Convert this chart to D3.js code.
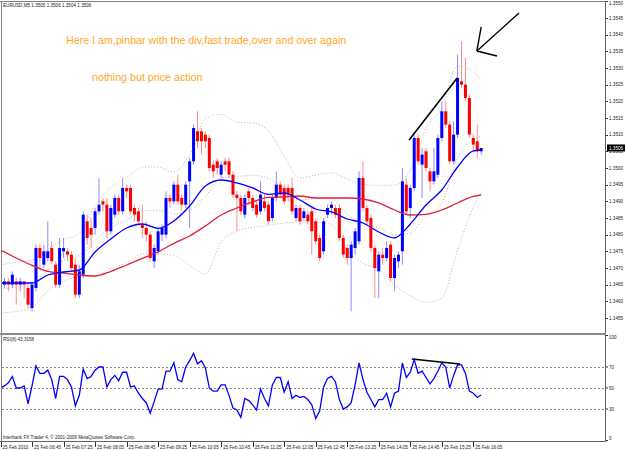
<!DOCTYPE html>
<html>
<head>
<meta charset="utf-8">
<script src="https://cdn.jsdelivr.net/npm/d3@7"></script>
<style>
  body { margin: 0; background: #fff; }
  svg { display: block; }
  text { font-family: "Liberation Sans", Arial, sans-serif; }
</style>
</head>
<body>
<svg id="chart" width="625" height="450"></svg>
<script>
// EURUSD M5, 25 Feb 2010, bars 06:05 .. 16:15 (123 bars)

const opens = [
  1.3466, 1.3465, 1.3466, 1.3465, 1.3466, 1.3465, 1.3466, 1.3464, 1.3458, 1.3464,
  1.3476, 1.3471, 1.3473, 1.3476, 1.3471, 1.3465, 1.3475, 1.3475, 1.3474, 1.3471,
  1.3462, 1.3468, 1.3484, 1.3482, 1.3482, 1.3487, 1.3490, 1.3489, 1.3481, 1.3486,
  1.3491, 1.3487, 1.3494, 1.3494, 1.3488, 1.3487, 1.3483, 1.3482, 1.3480, 1.3472,
  1.3475, 1.3480, 1.3480, 1.3491, 1.3490, 1.3495, 1.3491, 1.3489, 1.3496, 1.3502,
  1.3511, 1.3511, 1.3510, 1.3509, 1.3501, 1.3502, 1.3498, 1.3502, 1.3502, 1.3498,
  1.3492, 1.3491, 1.3486, 1.3493, 1.3491, 1.3489, 1.3487, 1.3490, 1.3489, 1.3485,
  1.3491, 1.3495, 1.3494, 1.3494, 1.3494, 1.3485, 1.3488, 1.3485, 1.3486, 1.3487,
  1.3484, 1.3479, 1.3475, 1.3486, 1.3488, 1.3488, 1.3488, 1.3479, 1.3476, 1.3473,
  1.3476, 1.3478, 1.3497, 1.3488, 1.3485, 1.3476, 1.3469, 1.3474, 1.3473, 1.3477,
  1.3467, 1.3472, 1.3475, 1.3495, 1.3488, 1.3494, 1.3509, 1.3501, 1.3505, 1.3499,
  1.3496, 1.3498, 1.3509, 1.3517, 1.3513, 1.3502, 1.3510, 1.3526, 1.3525, 1.3521,
  1.3509, 1.3508, 1.3505
];
const highs = [
  1.3467, 1.3467, 1.3467, 1.3469, 1.3467, 1.3467, 1.3466, 1.3465, 1.3466, 1.3477,
  1.3477, 1.3477, 1.3484, 1.3478, 1.3472, 1.3479, 1.3479, 1.3476, 1.3475, 1.3473,
  1.3471, 1.3487, 1.3486, 1.3485, 1.3488, 1.3497, 1.3491, 1.3491, 1.3489, 1.3492,
  1.3492, 1.3497, 1.3495, 1.3495, 1.3489, 1.3488, 1.3489, 1.3484, 1.3481, 1.3477,
  1.3482, 1.3483, 1.3493, 1.3492, 1.3496, 1.3498, 1.3492, 1.3496, 1.3503, 1.3513,
  1.3517, 1.3512, 1.3511, 1.3510, 1.3502, 1.3503, 1.3502, 1.3503, 1.3503, 1.3499,
  1.3493, 1.3492, 1.3492, 1.3494, 1.3492, 1.3490, 1.3496, 1.3492, 1.3490, 1.3492,
  1.3499, 1.3496, 1.3495, 1.3495, 1.3497, 1.3489, 1.3489, 1.3488, 1.3487, 1.3488,
  1.3485, 1.3480, 1.3485, 1.3489, 1.3490, 1.3489, 1.3489, 1.3480, 1.3477, 1.3478,
  1.3482, 1.3499, 1.3502, 1.3489, 1.3486, 1.3477, 1.3475, 1.3476, 1.3478, 1.3478,
  1.3474, 1.3475, 1.3500, 1.3497, 1.3495, 1.3510, 1.3510, 1.3506, 1.3506, 1.3500,
  1.3506, 1.3510, 1.3520, 1.3520, 1.3514, 1.3514, 1.3534, 1.3538, 1.3533, 1.3522,
  1.3510, 1.3513, 1.3506
];
const lows = [
  1.3462, 1.3464, 1.3463, 1.3464, 1.3459, 1.3463, 1.3461, 1.3458, 1.3457, 1.3463,
  1.3470, 1.3470, 1.3472, 1.3471, 1.3464, 1.3464, 1.3473, 1.3472, 1.3469, 1.3461,
  1.3461, 1.3467, 1.3477, 1.3476, 1.3480, 1.3486, 1.3487, 1.3479, 1.3480, 1.3485,
  1.3486, 1.3486, 1.3491, 1.3486, 1.3484, 1.3483, 1.3479, 1.3478, 1.3472, 1.3470,
  1.3474, 1.3478, 1.3479, 1.3488, 1.3489, 1.3489, 1.3487, 1.3488, 1.3482, 1.3501,
  1.3506, 1.3504, 1.3506, 1.3499, 1.3497, 1.3498, 1.3497, 1.3499, 1.3497, 1.3491,
  1.3481, 1.3486, 1.3485, 1.3489, 1.3487, 1.3485, 1.3486, 1.3487, 1.3483, 1.3484,
  1.3490, 1.3491, 1.3489, 1.3490, 1.3486, 1.3484, 1.3483, 1.3484, 1.3483, 1.3474,
  1.3477, 1.3472, 1.3474, 1.3485, 1.3486, 1.3485, 1.3478, 1.3473, 1.3471, 1.3457,
  1.3474, 1.3477, 1.3487, 1.3483, 1.3475, 1.3461, 1.3461, 1.3471, 1.3472, 1.3466,
  1.3463, 1.3470, 1.3471, 1.3486, 1.3485, 1.3493, 1.3501, 1.3491, 1.3499, 1.3493,
  1.3495, 1.3497, 1.3508, 1.3512, 1.3501, 1.3501, 1.3509, 1.3524, 1.3520, 1.3509,
  1.3505, 1.3503, 1.3504
];
const closes = [
  1.3463, 1.3466, 1.3465, 1.3468, 1.3465, 1.3466, 1.3465, 1.3459, 1.3465, 1.3476,
  1.3473, 1.3475, 1.3475, 1.3472, 1.3465, 1.3476, 1.3476, 1.3474, 1.3470, 1.3462,
  1.3469, 1.3486, 1.3479, 1.3480, 1.3487, 1.3489, 1.3489, 1.3481, 1.3488, 1.3491,
  1.3487, 1.3494, 1.3493, 1.3487, 1.3486, 1.3484, 1.3482, 1.3480, 1.3473, 1.3476,
  1.3481, 1.3482, 1.3491, 1.3490, 1.3495, 1.3490, 1.3489, 1.3495, 1.3502, 1.3512,
  1.3508, 1.3508, 1.3508, 1.3500, 1.3499, 1.3500, 1.3501, 1.3501, 1.3498, 1.3492,
  1.3491, 1.3487, 1.3491, 1.3491, 1.3488, 1.3486, 1.3492, 1.3488, 1.3484, 1.3491,
  1.3495, 1.3492, 1.3490, 1.3492, 1.3487, 1.3488, 1.3484, 1.3487, 1.3484, 1.3481,
  1.3478, 1.3473, 1.3484, 1.3488, 1.3489, 1.3486, 1.3479, 1.3474, 1.3473, 1.3477,
  1.3481, 1.3497, 1.3488, 1.3484, 1.3476, 1.3470, 1.3474, 1.3473, 1.3476, 1.3467,
  1.3473, 1.3474, 1.3496, 1.3487, 1.3494, 1.3509, 1.3502, 1.3504, 1.3500, 1.3496,
  1.3499, 1.3509, 1.3517, 1.3513, 1.3502, 1.3510, 1.3527, 1.3525, 1.3521, 1.3510,
  1.3507, 1.3505, 1.3506
];

// RSI(8), one value per bar
const rsiValues = [
  50, 52, 55, 61, 50, 50, 52, 35, 52, 71,
  64, 64, 67, 58, 40, 61, 61, 58, 51, 33,
  43, 68, 59, 61, 67, 70, 70, 51, 58, 62,
  57, 65, 65, 51, 52, 45, 40, 36, 26, 37,
  49, 49, 66, 66, 74, 58, 56, 70, 76, 83,
  73, 76, 69, 50, 47, 47, 53, 53, 43, 31,
  29, 22, 40, 38, 34, 29, 49, 40, 33, 53,
  60, 60, 46, 56, 40, 43, 41, 42, 39, 34,
  21, 28, 51, 59, 61, 56, 39, 30, 32, 36,
  53, 74, 58, 46, 39, 32, 39, 39, 45, 32,
  45, 47, 74, 60, 65, 77, 64, 66, 60, 54,
  59, 66, 74, 70, 50, 62, 72, 72, 64, 47,
  45, 41, 43.3158
];

// indicator lines, read every 4th bar
const sampleBars = [0, 4, 8, 12, 16, 20, 24, 28, 32, 36, 40, 44, 48, 52, 56, 60,
  64, 68, 72, 76, 80, 84, 88, 92, 96, 100, 104, 108, 112, 116, 120, 122];
const maFast = [
  1.34655, 1.34655, 1.34655, 1.34679, 1.34688, 1.34694, 1.34748, 1.34787,
  1.34820, 1.34832, 1.34819, 1.34841, 1.34886, 1.34946, 1.34964, 1.34955,
  1.34940, 1.34921, 1.34925, 1.34904, 1.34877, 1.34868, 1.34847, 1.34835,
  1.34808, 1.34790, 1.34832, 1.34889, 1.34934, 1.35003, 1.35051, 1.35054
];
const maSlow = [
  1.34754, 1.34730, 1.34708, 1.34690, 1.34685, 1.34679, 1.34676, 1.34690,
  1.34709, 1.34729, 1.34748, 1.34774, 1.34796, 1.34826, 1.34859, 1.34880,
  1.34898, 1.34912, 1.34913, 1.34916, 1.34910, 1.34910, 1.34910, 1.34907,
  1.34895, 1.34874, 1.34859, 1.34861, 1.34874, 1.34895, 1.34915, 1.34919
];
const bandUpper = [
  1.34709, 1.34717, 1.34724, 1.34757, 1.34784, 1.34804, 1.34889, 1.34942,
  1.34970, 1.35002, 1.35003, 1.34988, 1.35039, 1.35147, 1.35161, 1.35137,
  1.35135, 1.35111, 1.35036, 1.34970, 1.34979, 1.34985, 1.34967, 1.34951,
  1.34948, 1.34949, 1.34994, 1.35120, 1.35180, 1.35306, 1.35288, 1.35264
];
const bandMiddle = [
  1.34637, 1.34643, 1.34653, 1.34694, 1.34723, 1.34738, 1.34783, 1.34821,
  1.34843, 1.34872, 1.34873, 1.34863, 1.34873, 1.34915, 1.34969, 1.34974,
  1.34978, 1.34969, 1.34936, 1.34904, 1.34908, 1.34908, 1.34861, 1.34832,
  1.34821, 1.34799, 1.34805, 1.34858, 1.34895, 1.35030, 1.35086, 1.35095
];
const bandLower = [
  1.34565, 1.34570, 1.34582, 1.34631, 1.34661, 1.34673, 1.34676, 1.34700,
  1.34715, 1.34742, 1.34742, 1.34738, 1.34708, 1.34682, 1.34778, 1.34811,
  1.34822, 1.34828, 1.34835, 1.34838, 1.34837, 1.34831, 1.34754, 1.34714,
  1.34694, 1.34649, 1.34616, 1.34597, 1.34610, 1.34754, 1.34883, 1.34925
];

// axis ticks
const priceTicks = [1.3550, 1.3545, 1.3540, 1.3535, 1.3530, 1.3525, 1.3520, 1.3515,
  1.3510, 1.3505, 1.3500, 1.3495, 1.3490, 1.3485, 1.3480, 1.3475, 1.3470, 1.3465,
  1.3460, 1.3455];
const rsiTicks = [100, 70, 50, 30, 0];
const rsiLevels = [70, 50, 30];
const timeTickBars = [0, 8, 16, 24, 32, 40, 48, 56, 64, 72, 80, 88, 96, 104, 112, 120];
const timeLabels = ["25 Feb 2010", "25 Feb 06:45", "25 Feb 07:25", "25 Feb 08:05",
  "25 Feb 08:45", "25 Feb 09:25", "25 Feb 10:05", "25 Feb 10:45", "25 Feb 11:25",
  "25 Feb 12:05", "25 Feb 12:45", "25 Feb 13:25", "25 Feb 14:05", "25 Feb 14:45",
  "25 Feb 15:25", "25 Feb 16:05"];

// hand drawn objects on the chart: [bar, value] end points
const priceTrend = [[103.7, 1.35084], [115.9, 1.3527]];
const rsiTrend = [[104.4, 77.6], [116.6, 72.9]];
const arrowLines = [
  [[131.6, 1.35465], [120.9, 1.35351]],
  [[120.9, 1.35351], [122.0, 1.35423]],
  [[120.9, 1.35351], [126.0, 1.35336]]
];

const lastPrice = 1.3506;

const svg = d3.select("#chart");

// layout
const plotLeft = 2, plotRight = 605;
const mainTop = 2, mainBottom = 333;
const rsiTop = 335, rsiBottom = 441;

const x = d3.scaleLinear().domain([0, 122]).range([0.5, 481.2]);
const y = d3.scaleLinear().domain([1.3455, 1.3550]).range([318, 1.3]);
const yRsi = d3.scaleLinear().domain([0, 100]).range([440.5, 335.5]);

svg.append("rect").attr("width", 625).attr("height", 450).attr("fill", "#fff");

// clip regions for the two panes
const defs = svg.append("defs");
defs.append("clipPath").attr("id", "clipMain").append("rect")
  .attr("x", plotLeft).attr("y", mainTop)
  .attr("width", plotRight - plotLeft).attr("height", mainBottom - mainTop);
defs.append("clipPath").attr("id", "clipRsi").append("rect")
  .attr("x", plotLeft).attr("y", rsiTop)
  .attr("width", plotRight - plotLeft).attr("height", rsiBottom - rsiTop);

const main = svg.append("g").attr("clip-path", "url(#clipMain)");
const sub = svg.append("g").attr("clip-path", "url(#clipRsi)");

const bars = d3.range(opens.length).map(i => ({
  i: i, o: opens[i], h: highs[i], l: lows[i], c: closes[i]
}));

// bollinger bands (dotted)
const lineOf = values => d3.line()
  .x((d, k) => x(sampleBars[k]))
  .y(d => y(d))
  .curve(d3.curveMonotoneX)(values);

[bandUpper, bandMiddle, bandLower].forEach(band => {
  main.append("path")
    .attr("d", lineOf(band))
    .attr("fill", "none")
    .attr("stroke", "#bdb3b3")
    .attr("stroke-width", 1)
    .attr("stroke-dasharray", "1,2");
});

// candles: wick first, body on top
main.append("g").selectAll("line")
  .data(bars)
  .join("line")
    .attr("x1", d => x(d.i)).attr("x2", d => x(d.i))
    .attr("y1", d => y(d.h)).attr("y2", d => y(d.l))
    .attr("stroke", d => d.c >= d.o ? "#8c8cff" : "#ff8c8c")
    .attr("stroke-width", 1);

main.append("g").selectAll("rect")
  .data(bars)
  .join("rect")
    .attr("x", d => x(d.i) - 1.5)
    .attr("width", 3)
    .attr("y", d => y(Math.max(d.o, d.c)))
    .attr("height", d => Math.max(1, Math.abs(y(d.o) - y(d.c))))
    .attr("fill", d => d.c >= d.o ? "#0000ff" : "#ff0000");

// moving averages
main.append("path")
  .attr("d", lineOf(maSlow))
  .attr("fill", "none")
  .attr("stroke", "#e0203c")
  .attr("stroke-width", 1.3);
main.append("path")
  .attr("d", lineOf(maFast))
  .attr("fill", "none")
  .attr("stroke", "#0000ff")
  .attr("stroke-width", 1.3);

// trend line and arrow drawn by the trader
const segment = d3.line().x(d => x(d[0])).y(d => y(d[1]));
main.append("path").attr("d", segment(priceTrend))
  .attr("stroke", "#000").attr("stroke-width", 1.6).attr("fill", "none");
arrowLines.forEach(seg => {
  main.append("path").attr("d", segment(seg))
    .attr("stroke", "#000").attr("stroke-width", 1.4).attr("fill", "none");
});

// annotations
svg.append("text").attr("x", 66).attr("y", 44)
  .attr("fill", "#ffa726").style("font-size", "10.7px")
  .text("Here I am,pinbar with the div,fast trade,over and over again");
svg.append("text").attr("x", 92).attr("y", 81)
  .attr("fill", "#ffa726").style("font-size", "10.7px")
  .text("nothing but price action");

// RSI pane
sub.selectAll("line.level")
  .data(rsiLevels)
  .join("line")
    .attr("class", "level")
    .attr("x1", plotLeft).attr("x2", plotRight)
    .attr("y1", d => Math.round(yRsi(d)) + 0.5).attr("y2", d => Math.round(yRsi(d)) + 0.5)
    .attr("stroke", "#8a8a8a")
    .attr("stroke-dasharray", "2,2");

sub.append("path")
  .attr("d", d3.line().x((d, i) => x(i)).y(d => yRsi(d))(rsiValues))
  .attr("fill", "none")
  .attr("stroke", "#0000ff")
  .attr("stroke-width", 1.3);

sub.append("path")
  .attr("d", d3.line().x(d => x(d[0])).y(d => yRsi(d[1]))(rsiTrend))
  .attr("stroke", "#000").attr("stroke-width", 1.6).attr("fill", "none");

// frames and separators
const frame = svg.append("g").attr("fill", "none").attr("stroke", "#808080");
frame.append("line").attr("x1", 0).attr("x2", plotRight).attr("y1", 1.5).attr("y2", 1.5);
frame.append("line").attr("x1", 1.5).attr("x2", 1.5).attr("y1", 1).attr("y2", rsiBottom);
frame.append("line").attr("x1", plotRight + 0.5).attr("x2", plotRight + 0.5)
  .attr("y1", 1).attr("y2", rsiBottom + 1).attr("stroke", "#606060");
frame.append("line").attr("x1", 0).attr("x2", plotRight + 1)
  .attr("y1", rsiBottom + 0.5).attr("y2", rsiBottom + 0.5).attr("stroke", "#606060");
svg.append("rect").attr("x", 0).attr("y", mainBottom).attr("width", plotRight + 1)
  .attr("height", 2).attr("fill", "#8c8c8c");

// price axis
const axisFont = "4.6px";
const pAxis = svg.append("g");
pAxis.selectAll("line")
  .data(priceTicks)
  .join("line")
    .attr("x1", plotRight + 1).attr("x2", plotRight + 3)
    .attr("y1", d => Math.round(y(d)) + 0.5).attr("y2", d => Math.round(y(d)) + 0.5)
    .attr("stroke", "#333");
pAxis.selectAll("text")
  .data(priceTicks)
  .join("text")
    .attr("x", plotRight + 4)
    .attr("y", d => Math.max(y(d), 3.5) + 1.7)
    .style("font-size", axisFont)
    .attr("fill", "#222")
    .text(d => d.toFixed(4));

// current price box
svg.append("rect")
  .attr("x", plotRight + 2).attr("y", y(lastPrice) - 3.5)
  .attr("width", 18).attr("height", 7).attr("fill", "#000");
svg.append("text")
  .attr("x", plotRight + 4).attr("y", y(lastPrice) + 1.7)
  .style("font-size", axisFont).attr("fill", "#fff")
  .text(lastPrice.toFixed(4));

// RSI axis
const rAxis = svg.append("g");
rAxis.selectAll("line")
  .data(rsiTicks)
  .join("line")
    .attr("x1", plotRight + 1).attr("x2", plotRight + 3)
    .attr("y1", d => yRsi(d)).attr("y2", d => yRsi(d))
    .attr("stroke", "#333");
rAxis.selectAll("text")
  .data(rsiTicks)
  .join("text")
    .attr("x", plotRight + 4)
    .attr("y", d => Math.min(Math.max(yRsi(d), 337), 438) + 1.7)
    .style("font-size", axisFont)
    .attr("fill", "#222")
    .text(d => d);

// time axis
const tAxis = svg.append("g");
tAxis.selectAll("line")
  .data(timeTickBars)
  .join("line")
    .attr("x1", d => Math.round(x(d)) + 0.5).attr("x2", d => Math.round(x(d)) + 0.5)
    .attr("y1", rsiBottom + 1).attr("y2", rsiBottom + 6)
    .attr("stroke", "#333");
tAxis.selectAll("text")
  .data(timeTickBars)
  .join("text")
    .attr("x", d => x(d) + 2)
    .attr("y", 448.5)
    .style("font-size", axisFont)
    .attr("fill", "#222")
    .text((d, k) => timeLabels[k]);

// pane captions
svg.append("text").attr("x", 3).attr("y", 7)
  .style("font-size", axisFont).attr("fill", "#222")
  .text("EURUSD,M5  1.3505 1.3506 1.3504 1.3506");
svg.append("text").attr("x", 3).attr("y", 341)
  .style("font-size", axisFont).attr("fill", "#222")
  .text("RSI(8) 43.3158");
svg.append("text").attr("x", 3).attr("y", 439)
  .style("font-size", axisFont).attr("fill", "#222")
  .text("Interbank FX Trader 4, \u00a9 2001-2009 MetaQuotes Software Corp.");
</script>
</body>
</html>
